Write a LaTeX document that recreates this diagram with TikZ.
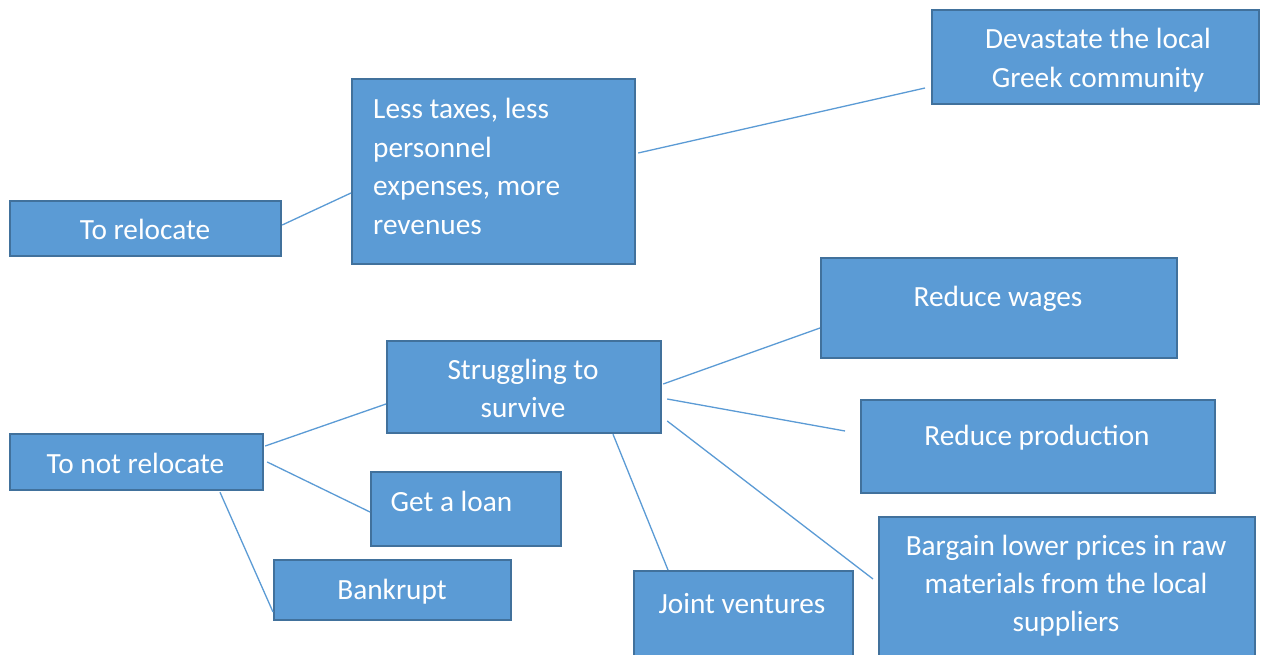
\documentclass[tikz,border=0pt]{standalone}
\usepackage{fontspec}
\setmainfont{Carlito}
\usetikzlibrary{calc}
\definecolor{boxfill}{HTML}{5B9BD5}
\definecolor{boxborder}{HTML}{41719C}
\definecolor{linkc}{HTML}{5B9BD5}
\newcommand{\boxfont}{\fontsize{29.3}{38}\selectfont}
\tikzset{
  box/.style={draw=boxborder, fill=boxfill, line width=2.2pt, inner sep=0pt, anchor=north west},
  lbl/.style={text=white, font=\boxfont, inner sep=0pt, anchor=base},
  link/.style={draw=linkc, line width=1.3pt},
}
\begin{document}
\begin{tikzpicture}[x=1pt,y=-1pt]
\clip (0,0) rectangle (1261,655);
\fill[white] (0,0) rectangle (1261,655);
% boxes
\node[box, minimum width=271pt, minimum height=55pt] (reloc) at (9,200) {};
\node[box, minimum width=283pt, minimum height=185pt] (lt) at (351,78) {};
\node[box, minimum width=327pt, minimum height=94pt] (dev) at (931,9) {};
\node[box, minimum width=356pt, minimum height=100pt] (wages) at (820,257) {};
\node[box, minimum width=274pt, minimum height=92pt] (str) at (386,340) {};
\node[box, minimum width=354pt, minimum height=93pt] (prod) at (860,399) {};
\node[box, minimum width=253pt, minimum height=56pt] (notr) at (9,433) {};
\node[box, minimum width=190pt, minimum height=74pt] (loan) at (370,471) {};
\node[box, minimum width=237pt, minimum height=60pt] (bank) at (273,559) {};
\node[box, minimum width=219pt, minimum height=100pt] (jv) at (633,570) {};
\node[box, minimum width=376pt, minimum height=154pt] (barg) at (878,516) {};
% labels (multi-line labels are anchored at the baseline of their last line)
\node[lbl] (treloc) at (145,240) {To relocate};
\node[lbl, anchor=base west, align=left, font=\fontsize{29.3}{38.7}\selectfont] (tlt) at (373,234.5) {Less taxes, less\\personnel\\expenses, more\\revenues};
\node[lbl, align=center, font=\fontsize{29.3}{39}\selectfont] (tdev) at (1098,87.5) {Devastate the local\\Greek community};
\node[lbl] (twages) at (998,306) {Reduce wages};
\node[lbl, align=center, font=\fontsize{29.3}{37.5}\selectfont] (tstr) at (523,417) {Struggling to\\survive};
\node[lbl] (tprod) at (1037,445) {Reduce production};
\node[lbl] (tnotr) at (135.5,473) {To not relocate};
\node[lbl] (tloan) at (451.5,511) {Get a loan};
\node[lbl] (tbank) at (392,599) {Bankrupt};
\node[lbl] (tjv) at (742,613) {Joint ventures};
\node[lbl, align=center] (tbarg) at (1066,631) {Bargain lower prices in raw\\materials from the local\\suppliers};
% connectors
\draw[link] ($(reloc.north east)+(0,25)$) -- ($(lt.north west)+(0,115)$);
\draw[link] ($(lt.north east)+(2,75)$) -- ($(dev.north west)+(-6,79)$);
\draw[link] ($(notr.north east)+(1,13)$) -- ($(str.north west)+(0,64)$);
\draw[link] ($(notr.north east)+(3,29)$) -- ($(loan.north west)+(0,41)$);
\draw[link] ($(notr.south west)+(211,1)$) -- ($(bank.north west)+(0,53)$);
\draw[link] ($(str.north east)+(1,44)$) -- ($(wages.north west)+(0,71)$);
\draw[link] ($(str.north east)+(5,59)$) -- ($(prod.north west)+(-15,32)$);
\draw[link] ($(str.north east)+(5,81)$) -- ($(barg.north west)+(-5,63)$);
\draw[link] ($(str.south west)+(227,0)$) -- ($(jv.north west)+(35,0)$);
\end{tikzpicture}
\end{document}
